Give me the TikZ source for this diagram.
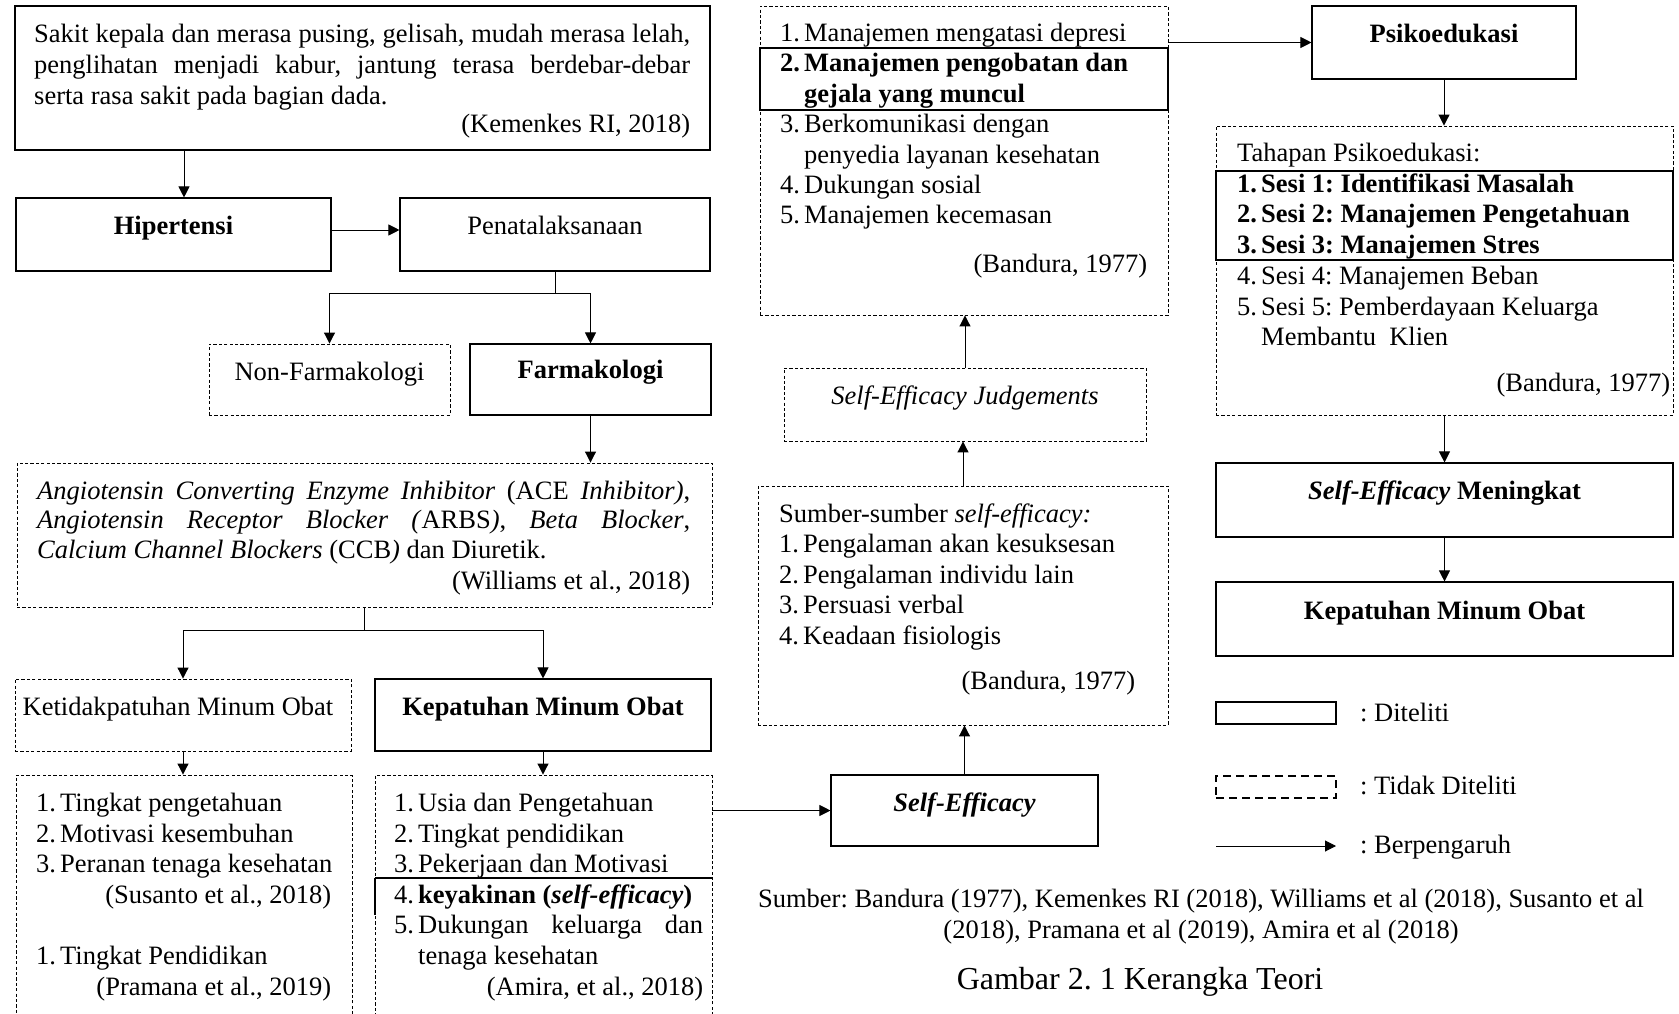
\documentclass[tikz,border=0pt]{standalone}
\usepackage{fontspec}
\setmainfont{Liberation Serif}
\usetikzlibrary{arrows.meta,calc}
\newcommand\fs{\fontsize{26.5}{30.6}\selectfont\frenchspacing}
\newcommand\nm[1]{\makebox[24pt][l]{#1}}
\newcommand\bx[6]{\node[#6, minimum width={#4-#2}, minimum height={#5-#3}] (#1) at ({(#2+#4)/2},{(#3+#5)/2}) {};}
\hfuzz=20pt
\hbadness=10000
\begin{document}
\begin{tikzpicture}[x=1pt,y=-1pt,
  every node/.style={inner sep=0pt, font=\fs},
  solidbox/.style={draw, line width=1.1pt, rectangle},
  dashbox/.style={draw, line width=0.9pt, dash pattern=on 3.2pt off 2.2pt, rectangle},
  legsolid/.style={draw, line width=2.4pt, rectangle},
  legdash/.style={draw, line width=2.4pt, dash pattern=on 8pt off 5pt, rectangle},
  arr/.style={line width=1pt, -{Triangle[length=11pt,width=11pt]}},
  conn/.style={line width=1pt},
  txt/.style={anchor=base west, align=justify},
]
\useasboundingbox (0,0) rectangle (1679,1014);
\clip (0,0) rectangle (1679,1014);
\fill[white] (0,0) rectangle (1679,1014);

% ---------- left column ----------
\bx{topbox}{15}{6}{710}{150}{solidbox}
\node[txt, text width=656pt, font=\fontsize{26.5}{31.2}\selectfont\frenchspacing] (ttop) at (34,42.5) {%
\makebox[656pt][s]{Sakit kepala dan merasa pusing, gelisah, mudah merasa lelah,}\\
\makebox[656pt][s]{penglihatan menjadi kabur, jantung terasa berdebar-debar}\\
\mbox{serta rasa sakit pada bagian dada.}\\[-4pt]
\mbox{}\hfill(Kemenkes RI, 2018)};

\bx{hip}{16}{198}{331}{271}{solidbox}
\node[anchor=base] (thip) at (173.5,234) {\textbf{Hipertensi}};
\bx{pen}{400}{198}{710}{271}{solidbox}
\node[anchor=base] (tpen) at (555,234) {Penatalaksanaan};

\bx{nonf}{209}{344}{450}{415}{dashbox}
\node[anchor=base] (tnonf) at (329.5,380) {Non-Farmakologi};
\bx{farm}{470}{344}{711}{415}{solidbox}
\node[anchor=base] (tfarm) at (590.5,378.5) {\textbf{Farmakologi}};

\bx{ace}{17}{463}{712}{607}{dashbox}
\node[txt, text width=653pt, font=\fontsize{26.5}{29.8}\selectfont\frenchspacing] (tace) at (37,499) {%
\makebox[653pt][s]{\textit{Angiotensin Converting Enzyme Inhibitor} (ACE \textit{Inhibitor)},}\\
\makebox[653pt][s]{\textit{Angiotensin Receptor Blocker (}ARBS\textit{)}, \textit{Beta Blocker},}\\
\mbox{\textit{Calcium Channel Blockers} (CCB\textit{)} dan Diuretik.}\\[0.8pt]
\mbox{}\hfill(Williams et al., 2018)};

\bx{ketid}{15}{679}{351}{751}{dashbox}
\node[anchor=base] (tketid) at (178,715.5) {Ketidakpatuhan Minum Obat};
\bx{kepL}{375}{679}{711}{751}{solidbox}
\node[anchor=base] (tkepL) at (543,715.5) {\textbf{Kepatuhan Minum Obat}};

\bx{listL}{16}{775}{352}{1040}{dashbox}
\node[txt, text width=295pt] (tlistL) at (36,811.5) {%
\nm{1.}\mbox{Tingkat pengetahuan}\\
\nm{2.}\mbox{Motivasi kesembuhan}\\
\nm{3.}\mbox{Peranan tenaga kesehatan}\\
\mbox{}\hfill(Susanto et al., 2018)\\[30.6pt]
\nm{1.}\mbox{Tingkat Pendidikan}\\
\mbox{}\hfill(Pramana et al., 2019)};

\bx{listM}{375}{775}{712}{1040}{dashbox}
\draw[line width=1.1pt] (375,878) -- (712,878);
\draw[line width=1.1pt] (375,878) -- (375,915);
\node[txt, text width=309pt] (tlistM) at (394,811.5) {%
\nm{1.}\mbox{Usia dan Pengetahuan}\\
\nm{2.}\mbox{Tingkat pendidikan}\\
\nm{3.}\mbox{Pekerjaan dan Motivasi}\\
\nm{4.}\mbox{\textbf{keyakinan (\textit{self-efficacy})}}\\
\nm{5.}\makebox[285pt][s]{Dukungan keluarga dan}\\
\hspace*{24pt}\mbox{tenaga kesehatan}\\
\mbox{}\hfill(Amira, et al., 2018)};

% ---------- middle column ----------
\bx{man}{760}{6}{1168}{315}{dashbox}
\bx{maninner}{760}{48}{1168}{110}{solidbox}
\node[txt, text width=367pt, font=\fontsize{26.5}{30.4}\selectfont\frenchspacing] (tman) at (780,41.5) {%
\nm{1.}\mbox{Manajemen mengatasi depresi}\\
\textbf{\nm{2.}\mbox{Manajemen pengobatan dan}}\\
\textbf{\hspace*{24pt}\mbox{gejala yang muncul}}\\
\nm{3.}\mbox{Berkomunikasi dengan}\\
\hspace*{24pt}\mbox{penyedia layanan kesehatan}\\
\nm{4.}\mbox{Dukungan sosial}\\
\nm{5.}\mbox{Manajemen kecemasan}\\[18pt]
\mbox{}\hfill(Bandura, 1977)};

\bx{sej}{784}{368}{1146}{441}{dashbox}
\node[anchor=base] (tsej) at (965,404) {\textit{Self-Efficacy Judgements}};

\bx{sumber}{758}{486}{1168}{725}{dashbox}
\node[txt, text width=356pt, font=\fontsize{26.5}{30.5}\selectfont\frenchspacing] (tsumber) at (779,522) {%
\mbox{Sumber-sumber \textit{self-efficacy:}}\\
\nm{1.}\mbox{Pengalaman akan kesuksesan}\\
\nm{2.}\mbox{Pengalaman individu lain}\\
\nm{3.}\mbox{Persuasi verbal}\\
\nm{4.}\mbox{Keadaan fisiologis}\\[14.5pt]
\mbox{}\hfill(Bandura, 1977)};

\bx{se}{831}{775}{1098}{846}{solidbox}
\node[anchor=base] (tse) at (964.5,811.2) {\textbf{\textit{Self-Efficacy}}};

% ---------- right column ----------
\bx{psi}{1312}{6}{1576}{79}{solidbox}
\node[anchor=base] (tpsi) at (1444,42.2) {\textbf{Psikoedukasi}};

\bx{tah}{1216}{126}{1673}{415}{dashbox}
\bx{tahinner}{1216}{171}{1673}{260}{solidbox}
\node[txt, text width=433pt, font=\fontsize{26.5}{30.7}\selectfont\frenchspacing] (ttah) at (1237,161.5) {%
\mbox{Tahapan Psikoedukasi:}\\
\textbf{\nm{1.}\mbox{Sesi 1: Identifikasi Masalah}}\\
\textbf{\nm{2.}\mbox{Sesi 2: Manajemen Pengetahuan}}\\
\textbf{\nm{3.}\mbox{Sesi 3: Manajemen Stres}}\\
\nm{4.}\mbox{Sesi 4: Manajemen Beban}\\
\nm{5.}\mbox{Sesi 5: Pemberdayaan Keluarga}\\
\hspace*{24pt}\mbox{Membantu\ \ Klien}\\[15.6pt]
\mbox{}\hfill(Bandura, 1977)};

\bx{sem}{1216}{463}{1673}{537}{solidbox}
\node[anchor=base] (tsem) at (1444.5,499) {\textbf{\textit{Self-Efficacy} Meningkat}};
\bx{kepR}{1216}{582}{1673}{656}{solidbox}
\node[anchor=base] (tkepR) at (1444.5,619) {\textbf{Kepatuhan Minum Obat}};

% ---------- legend ----------
\bx{lg1}{1216}{702}{1336}{724}{legsolid}
\node[anchor=base west] (tlg1) at (1360,721.2) {: Diteliti};
\bx{lg2}{1216}{776}{1336}{798}{legdash}
\node[anchor=base west] (tlg2) at (1360,794.2) {: Tidak Diteliti};
\coordinate (lga) at (1216,846);
\coordinate (lgb) at (1336,846);
\draw[arr] (lga) -- (lgb);
\node[anchor=base west] (tlg3) at (1360,853.2) {: Berpengaruh};

% ---------- captions ----------
\node[anchor=base] (cap1) at (1201,907.2) {Sumber: Bandura (1977), Kemenkes RI (2018), Williams et al (2018), Susanto et al};
\node[anchor=base] (cap2) at (1201,938.5) {(2018), Pramana et al (2019), Amira et al (2018)};
\node[anchor=base, font=\fontsize{32}{38}\selectfont\frenchspacing] (cap3) at (1140,989) {Gambar 2. 1 Kerangka Teori};

% ---------- connectors ----------
\coordinate (a1) at ($(hip.north)+(10.5,0)$);
\draw[arr] (a1 |- topbox.south) -- (a1);
\coordinate (a2) at ($(hip.east)+(0,-4.5)$);
\draw[arr] (a2) -- (a2 -| pen.west);
\draw[conn] (pen.south) -- ++(0,22) coordinate (j1);
\draw[arr] (j1) -| (nonf.north);
\draw[arr] (j1) -| (farm.north);
\draw[arr] (farm.south) -- (farm.south |- ace.north);
\draw[conn] (ace.south) -- ++(0,23) coordinate (j2);
\draw[arr] (j2) -| (ketid.north);
\draw[arr] (j2) -| (kepL.north);
\draw[arr] (ketid.south) -- (ketid.south |- listL.north);
\draw[arr] (kepL.south) -- (kepL.south |- listM.north);
\draw[arr] (se.west -| listM.east) -- (se.west);
\draw[arr] (se.north) -- (se.north |- sumber.south);
\draw[arr] (sumber.north) -- (sumber.north |- sej.south);
\draw[arr] (sej.north) -- (sej.north |- man.south);
\draw[arr] (psi.west -| man.east) -- (psi.west);
\draw[arr] (psi.south) -- (psi.south |- tah.north);
\draw[arr] (tah.south) -- (tah.south |- sem.north);
\draw[arr] (sem.south) -- (sem.south |- kepR.north);
\end{tikzpicture}
\end{document}
